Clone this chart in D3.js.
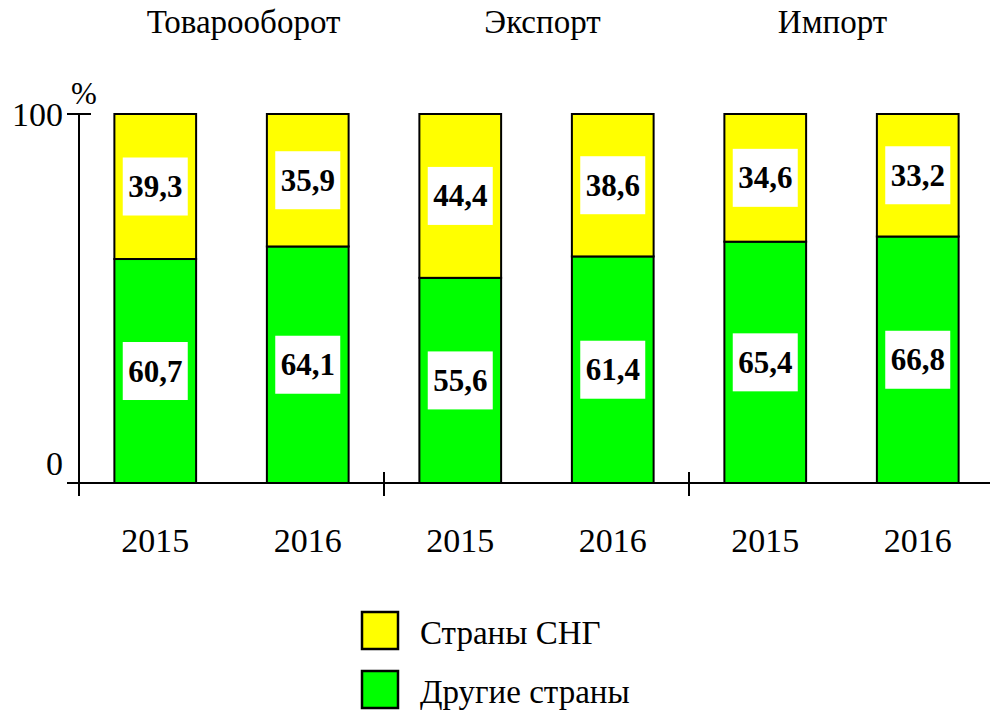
<!DOCTYPE html>
<html><head><meta charset="utf-8">
<script src="https://cdn.jsdelivr.net/npm/d3@7"></script>
<style>body{margin:0;background:#fff}svg{display:block}</style>
</head><body>
<svg id="c" width="990" height="714" style="font-family: Liberation Serif, serif"></svg>
<script>
const groups = ["Товарооборот", "Экспорт", "Импорт"];
const years = ["2015", "2016", "2015", "2016", "2015", "2016"];
const otherCountries = [60.7, 64.1, 55.6, 61.4, 65.4, 66.8];
const cisCountries = [39.3, 35.9, 44.4, 38.6, 34.6, 33.2];
const seriesNames = ["Страны СНГ", "Другие страны"];
const yTicks = [0, 100];

const svg = d3.select("#c");
const idx = d3.range(years.length);
const x = d3.scaleBand().domain(idx).range([79, 994]).paddingInner(0.464).paddingOuter(0.232);
const y = d3.scaleLinear().domain([0, 100]).range([483, 114]);
const fmt = v => String(v).replace(".", ",");
const colors = {cis: "#ffff00", other: "#00ff00"};
const txt = (sel) => sel.append("text").attr("font-family", "Liberation Serif, serif").style("font-family", "Liberation Serif, serif");

// bars
const bars = svg.append("g");
idx.forEach(i => {
  const x0 = x(i), w = x.bandwidth();
  bars.append("rect").attr("x", x0).attr("y", y(otherCountries[i])).attr("width", w)
    .attr("height", y(0) - y(otherCountries[i])).attr("fill", colors.other).attr("stroke", "#000").attr("stroke-width", 2);
  bars.append("rect").attr("x", x0).attr("y", y(otherCountries[i] + cisCountries[i])).attr("width", w)
    .attr("height", y(otherCountries[i]) - y(otherCountries[i] + cisCountries[i])).attr("fill", colors.cis).attr("stroke", "#000").attr("stroke-width", 2);
});

// labels
function label(cx, cy, t) {
  svg.append("rect").attr("x", cx - 32.5).attr("y", cy - 29).attr("width", 65).attr("height", 58).attr("fill", "#fff");
  txt(svg).attr("x", cx).attr("y", cy + 10.5).attr("text-anchor", "middle")
    .attr("font-weight", "bold").attr("font-size", 31).text(t);
}
idx.forEach(i => {
  const cx = x(i) + x.bandwidth() / 2;
  label(cx, (y(0) + y(otherCountries[i])) / 2, fmt(otherCountries[i]));
  label(cx, (y(otherCountries[i]) + y(otherCountries[i] + cisCountries[i])) / 2, fmt(cisCountries[i]));
});

// axes
const ax = svg.append("g").attr("stroke", "#000").attr("stroke-width", 2);
ax.append("line").attr("x1", 79).attr("x2", 79).attr("y1", y(100)).attr("y2", 496);
ax.append("line").attr("x1", 67).attr("x2", 990).attr("y1", y(0)).attr("y2", y(0));
yTicks.forEach(t => ax.append("line").attr("x1", 67).attr("x2", 91).attr("y1", y(t)).attr("y2", y(t)));
[2, 4].forEach(k => {
  const xs = x.range()[0] + k * x.step();
  ax.append("line").attr("x1", xs).attr("x2", xs).attr("y1", 472).attr("y2", 496);
});

// y tick labels
txt(svg).attr("x", 63).attr("y", y(0) - 8).attr("text-anchor", "end").attr("font-size", 34).text(yTicks[0]);
txt(svg).attr("x", 63).attr("y", y(100) + 12).attr("text-anchor", "end").attr("font-size", 34).text(yTicks[1]);
txt(svg).attr("x", 84).attr("y", 104).attr("text-anchor", "middle").attr("font-size", 31).text("%");

// year labels
idx.forEach(i => {
  txt(svg).attr("x", x(i) + x.bandwidth() / 2).attr("y", 552).attr("text-anchor", "middle")
    .attr("font-size", 34).text(years[i]);
});

// group titles
const titleShift = [12, 6, -9];
groups.forEach((g, k) => {
  const cx = x.range()[0] + (2 * k + 1) * x.step() + titleShift[k];
  txt(svg).attr("x", cx).attr("y", 33).attr("text-anchor", "middle").attr("font-size", 33).text(g);
});

// legend
const leg = [[seriesNames[0], colors.cis, 612], [seriesNames[1], colors.other, 671]];
leg.forEach(([name, col, ty]) => {
  svg.append("rect").attr("x", 362).attr("y", ty).attr("width", 36).attr("height", 37)
    .attr("fill", col).attr("stroke", "#000").attr("stroke-width", 2.5);
  txt(svg).attr("x", 420).attr("y", ty + 32).attr("font-size", 33).text(name);
});
</script>
</body></html>
